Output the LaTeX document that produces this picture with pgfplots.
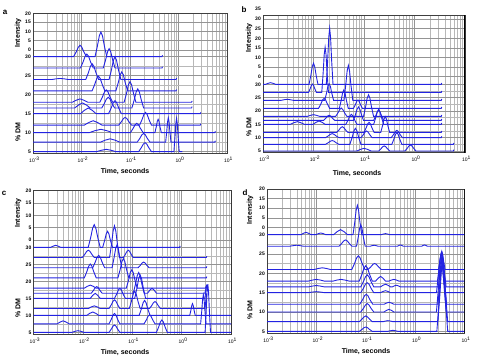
\documentclass[border=0pt]{standalone}
\usepackage{fontspec}
\setmainfont{Liberation Sans}
\usepackage{pgfplots}
\pgfplotsset{compat=1.18}
\definecolor{cb}{RGB}{35,35,225}
\pgfplotscreateplotcyclelist{bluelist}{{draw=cb,solid,line width=0.9pt,mark=none}\\}
\pgfplotsset{
 panel/.style={
  scale only axis, anchor=south west,
  xmin=-3, xmax=1,
  xtick={-3,-2,-1,0,1},
  xticklabels={10\textsuperscript{-3},10\textsuperscript{-2},10\textsuperscript{-1},10\textsuperscript{0},10\textsuperscript{1}},
  minor xtick={-2.699,-2.523,-2.398,-2.301,-2.222,-2.155,-2.097,-2.046,
   -1.699,-1.523,-1.398,-1.301,-1.222,-1.155,-1.097,-1.046,
   -0.699,-0.523,-0.398,-0.301,-0.222,-0.155,-0.097,-0.046,
   0.301,0.477,0.602,0.699,0.778,0.845,0.903,0.954},
  minor ytick={7.5,12.5,17.5,22.5,27.5},
  grid=both,
  major grid style={draw=black!42, line width=0.4pt},
  minor grid style={draw=black!28, line width=0.4pt},
  major tick length=0pt, minor tick length=0pt,
  axis line style={draw=black!75, line width=0.4pt},
  xticklabel style={font=\fontsize{5}{5}\selectfont, inner sep=1pt, yshift=-2.5pt, xshift=1.5pt},
  yticklabel style={font=\bfseries\fontsize{5}{5}\selectfont, inner sep=1pt, xshift=-1pt},
  cycle list name=bluelist,
 }
}
\tikzset{lab/.style={font=\bfseries\fontsize{7}{7}\selectfont, inner sep=0pt}}
\begin{document}
\begin{tikzpicture}[x=1pt,y=1pt]
\useasboundingbox (0,0) rectangle (484,356);

% ---------------- panel a ----------------
\begin{axis}[panel, at={(33pt,203pt)}, width=194pt, height=139.3pt,
  ymin=4.65, ymax=41.3,
  ytick={5,10,15,20,25,30,31.76,34.22,36.67,39.13,41.3},
  yticklabels={5,10,15,20,25,30,0,5,10,15,20}]
\addplot coordinates {(-3,30)(-2.162,30)(-2.108,31.28)(-2.066,32.5)(-2.03,32.98)(-1.994,32.5)(-1.952,31.28)(-1.898,30)(-1.721,30)(-1.672,32.79)(-1.633,35.45)(-1.60,36.49)(-1.567,35.45)(-1.528,32.79)(-1.479,30)(-0.34,30)(-0.33,30.35)};
\addplot coordinates {(-3,27)(-2.022,27)(-1.968,28.58)(-1.926,30.09)(-1.89,30.68)(-1.854,30.09)(-1.812,28.58)(-1.758,27)(-1.551,27)(-1.502,29.19)(-1.463,31.28)(-1.43,32.09)(-1.397,31.28)(-1.358,29.19)(-1.309,27)(-0.34,27)(-0.33,27.35)};
\addplot coordinates {(-3,24)(-2.6,24)(-2.52,24.16)(-2.44,24.26)(-2.36,24.16)(-2.28,24)(-1.912,24)(-1.858,25.77)(-1.816,27.46)(-1.78,28.12)(-1.744,27.46)(-1.702,25.77)(-1.648,24)(-1.431,24)(-1.382,26.56)(-1.343,29.01)(-1.31,29.96)(-1.277,29.01)(-1.238,26.56)(-1.189,24)(-0.05,24)(-0.04,24.35)};
\addplot coordinates {(-3,21)(-1.782,21)(-1.728,22.66)(-1.686,24.24)(-1.65,24.86)(-1.614,24.24)(-1.572,22.66)(-1.518,21)(-1.291,21)(-1.242,23.15)(-1.203,25.2)(-1.17,26)(-1.137,25.2)(-1.098,23.15)(-1.049,21)(-0.05,21)(-0.04,21.35)};
\addplot coordinates {(-3,18)(-2.19,18)(-2.11,18.53)(-2.03,18.88)(-1.95,18.53)(-1.87,18)(-1.622,18)(-1.568,19.4)(-1.526,20.73)(-1.49,21.25)(-1.454,20.73)(-1.412,19.4)(-1.358,18)(-1.121,18)(-1.072,20.34)(-1.033,22.57)(-1.0,23.44)(-0.967,22.57)(-0.928,20.34)(-0.879,18)(0.27,18)(0.28,18.35)};
\addplot coordinates {(-3,16.5)(-2.14,16.5)(-2.06,17.29)(-1.98,17.82)(-1.90,17.29)(-1.82,16.5)(-1.582,16.5)(-1.528,17.71)(-1.486,18.86)(-1.45,19.31)(-1.414,18.86)(-1.372,17.71)(-1.318,16.5)(-0.961,16.5)(-0.912,18.65)(-0.873,20.7)(-0.84,21.5)(-0.807,20.7)(-0.768,18.65)(-0.719,16.5)(0.27,16.5)(0.28,16.85)};
\addplot coordinates {(-3,15)(-2.02,15)(-1.94,15.89)(-1.86,16.49)(-1.78,15.89)(-1.70,15)(-1.442,15)(-1.388,16.47)(-1.346,17.87)(-1.31,18.42)(-1.274,17.87)(-1.232,16.47)(-1.178,15)(0.45,15)(0.46,15.35)};
\addplot coordinates {(-3,12)(-1.94,12)(-1.85,12.68)(-1.76,13.14)(-1.67,12.68)(-1.58,12)(-1.232,12)(-1.178,12.87)(-1.136,13.7)(-1.10,14.02)(-1.064,13.7)(-1.022,12.87)(-0.968,12)(-0.801,12)(-0.752,13.43)(-0.713,14.8)(-0.68,15.33)(-0.647,14.8)(-0.608,13.43)(-0.559,12)(0.45,12)(0.46,12.35)};
\addplot coordinates {(-3,10)(-1.84,10)(-1.72,10.53)(-1.6,10.88)(-1.48,10.53)(-1.36,10)(-0.992,10)(-0.938,11.06)(-0.896,12.07)(-0.86,12.46)(-0.824,12.07)(-0.782,11.06)(-0.728,10)(-0.486,10)(-0.459,11.51)(-0.438,12.95)(-0.42,13.51)(-0.402,12.95)(-0.381,11.51)(-0.354,10)(0.75,10)(0.76,10.35)};
\addplot coordinates {(-3,7.5)(-1.61,7.5)(-1.51,8.03)(-1.41,8.38)(-1.31,8.03)(-1.21,7.5)(-0.852,7.5)(-0.798,8.48)(-0.756,9.42)(-0.72,9.78)(-0.684,9.42)(-0.642,8.48)(-0.588,7.5)(-0.265,7.5)(-0.243,10.25)(-0.225,12.88)(-0.21,13.9)(-0.195,12.88)(-0.177,10.25)(-0.155,7.5)(0.75,7.5)(0.76,7.85)};
\addplot coordinates {(-3,5)(-1.69,5)(-1.59,5.37)(-1.49,5.61)(-1.39,5.37)(-1.29,5)(-0.822,5)(-0.768,6.02)(-0.726,6.99)(-0.69,7.37)(-0.654,6.99)(-0.612,6.02)(-0.558,5)(-0.095,5)(-0.073,8.77)(-0.055,12.37)(-0.04,13.77)(-0.025,12.37)(-0.007,8.77)(0.015,5)(0.08,5)};
\end{axis}

% ---------------- panel b ----------------
\begin{axis}[panel, at={(263pt,203.3pt)}, width=202pt, height=137.7pt,
  ymin=4.36, ymax=56.0,
  ytick={5,10,15,20,25,30,32.86,36.46,40.06,43.66,47.26,50.86,54.46},
  yticklabels={5,10,15,20,25,30,0,5,10,15,20,25,30}]
\addplot coordinates {(-3,30)(-2.95,30)(-2.9,30.37)(-2.85,30.62)(-2.8,30.37)(-2.75,30)(-2.088,30)(-2.052,33.4)(-2.024,36.64)(-2.0,37.9)(-1.976,36.64)(-1.948,33.4)(-1.912,30)(-1.746,30)(-1.719,39.03)(-1.698,47.64)(-1.68,51)(-1.662,47.64)(-1.641,39.03)(-1.614,30)(0.53,30)(0.54,30.5)};
\addplot coordinates {(-3,27)(-2.097,27)(-2.066,28.34)(-2.041,29.62)(-2.02,30.12)(-1.999,29.62)(-1.974,28.34)(-1.943,27)(-1.836,27)(-1.809,34.27)(-1.788,41.2)(-1.77,43.9)(-1.752,41.2)(-1.731,34.27)(-1.704,27)(0.53,27)(0.54,27.5)};
\addplot coordinates {(-3,24)(-2.64,24)(-2.58,24.23)(-2.52,24.38)(-2.46,24.23)(-2.40,24)(-1.778,24)(-1.742,26.69)(-1.714,29.25)(-1.69,30.25)(-1.666,29.25)(-1.638,26.69)(-1.602,24)(-1.398,24)(-1.362,29.63)(-1.334,35.0)(-1.31,37.1)(-1.286,35.0)(-1.258,29.63)(-1.222,24)(0.53,24)(0.54,24.5)};
\addplot coordinates {(-3,21)(-1.9,21)(-1.855,22.61)(-1.82,24.15)(-1.79,24.75)(-1.76,24.15)(-1.725,22.61)(-1.68,21)(-1.488,21)(-1.452,23.97)(-1.424,26.8)(-1.40,27.9)(-1.376,26.8)(-1.348,23.97)(-1.312,21)(-1.208,21)(-1.172,22.33)(-1.144,23.6)(-1.12,24.1)(-1.096,23.6)(-1.068,22.33)(-1.032,21)(0.53,21)(0.54,21.5)};
\addplot coordinates {(-3,18)(-2.12,18)(-2.06,18.37)(-2.0,18.62)(-1.94,18.37)(-1.88,18)(-1.56,18)(-1.515,19.33)(-1.48,20.6)(-1.45,21.1)(-1.42,20.6)(-1.385,19.33)(-1.34,18)(-1.009,18)(-0.969,21.48)(-0.937,24.8)(-0.91,26.1)(-0.883,24.8)(-0.851,21.48)(-0.811,18)(0.53,18)(0.54,18.5)};
\addplot coordinates {(-3,16.5)(-1.8,16.5)(-1.755,17.32)(-1.72,18.1)(-1.69,18.4)(-1.66,18.1)(-1.625,17.32)(-1.58,16.5)(-1.209,16.5)(-1.169,18.65)(-1.137,20.7)(-1.11,21.5)(-1.083,20.7)(-1.051,18.65)(-1.011,16.5)(-0.809,16.5)(-0.769,18.11)(-0.737,19.65)(-0.71,20.25)(-0.683,19.65)(-0.651,18.11)(-0.611,16.5)(0.53,16.5)(0.54,17)};
\addplot coordinates {(-3,15)(-2.46,15)(-2.39,15.6)(-2.32,16)(-2.25,15.6)(-2.18,15)(-2.01,15)(-1.95,15.75)(-1.89,16.25)(-1.83,15.75)(-1.77,15)(-1.36,15)(-1.315,16.61)(-1.28,18.15)(-1.25,18.75)(-1.22,18.15)(-1.185,16.61)(-1.14,15)(-0.809,15)(-0.769,17.41)(-0.737,19.7)(-0.71,20.6)(-0.683,19.7)(-0.651,17.41)(-0.611,15)(0.53,15)(0.54,15.5)};
\addplot coordinates {(-3,12)(-1.54,12)(-1.495,12.9)(-1.46,13.76)(-1.43,14.1)(-1.40,13.76)(-1.365,12.9)(-1.32,12)(-0.999,12)(-0.959,13.61)(-0.927,15.15)(-0.90,15.75)(-0.873,15.15)(-0.841,13.61)(-0.801,12)(-0.668,12)(-0.632,14.54)(-0.604,16.96)(-0.58,17.9)(-0.556,16.96)(-0.528,14.54)(-0.492,12)(0.53,12)(0.54,12.5)};
\addplot coordinates {(-3,10)(-1.762,10)(-1.708,10.65)(-1.666,11.26)(-1.63,11.5)(-1.594,11.26)(-1.552,10.65)(-1.498,10)(-1.06,10)(-1.015,11.08)(-0.98,12.1)(-0.95,12.5)(-0.92,12.1)(-0.885,11.08)(-0.84,10)(-0.46,10)(-0.415,11.18)(-0.38,12.31)(-0.35,12.75)(-0.32,12.31)(-0.285,11.18)(-0.24,10)(0.53,10)(0.54,10.5)};
\addplot coordinates {(-3,7.5)(-1.762,7.5)(-1.708,8.1)(-1.666,8.68)(-1.63,8.9)(-1.594,8.68)(-1.552,8.1)(-1.498,7.5)(-1.28,7.5)(-1.235,10.08)(-1.2,12.54)(-1.17,13.5)(-1.14,12.54)(-1.105,10.08)(-1.06,7.5)(-0.449,7.5)(-0.409,9.39)(-0.377,11.2)(-0.35,11.9)(-0.323,11.2)(-0.291,9.39)(-0.251,7.5)(0.77,7.5)(0.78,8)};
\addplot coordinates {(-3,5)(-1.14,5)(-1.07,5.6)(-1.0,6)(-0.93,5.6)(-0.86,5)(-0.71,5)(-0.665,5.82)(-0.63,6.6)(-0.60,6.9)(-0.57,6.6)(-0.535,5.82)(-0.49,5)(-0.19,5)(-0.145,5.97)(-0.11,6.89)(-0.08,7.25)(-0.05,6.89)(-0.015,5.97)(0.03,5)(0.77,5)(0.78,5.5)};
\draw[black, line width=1.1pt] (rel axis cs:1,0) -- (rel axis cs:1,1);
\end{axis}

% ---------------- panel c ----------------
\begin{axis}[panel, at={(33.5pt,22pt)}, width=197.5pt, height=143.4pt,
  ymin=4.51, ymax=46.68,
  ytick={5,10,15,20,25,30,32.16,35.79,39.42,43.05,46.68},
  yticklabels={5,10,15,20,25,30,0,5,10,15,20}]
\addplot coordinates {(-3,30)(-2.65,30)(-2.6,30.35)(-2.55,30.59)(-2.5,30.35)(-2.45,30)(-1.891,30)(-1.842,32.87)(-1.803,35.6)(-1.77,36.67)(-1.737,35.6)(-1.698,32.87)(-1.649,30)(-1.599,30)(-1.559,32.02)(-1.527,33.95)(-1.50,34.7)(-1.473,33.95)(-1.441,32.02)(-1.401,30)(-0.04,30)(-0.03,30.4)};
\addplot coordinates {(-3,27)(-2.011,27)(-1.962,27.93)(-1.923,28.81)(-1.89,29.16)(-1.857,28.81)(-1.818,27.93)(-1.769,27)(-1.459,27)(-1.419,31.0)(-1.387,34.81)(-1.36,36.3)(-1.333,34.81)(-1.301,31.0)(-1.261,27)(-1.179,27)(-1.139,27.93)(-1.107,28.81)(-1.08,29.16)(-1.053,28.81)(-1.021,27.93)(-0.981,27)(0.50,27)(0.51,27.4)};
\addplot coordinates {(-3,24)(-1.801,24)(-1.752,25.56)(-1.713,27.05)(-1.68,27.63)(-1.647,27.05)(-1.608,25.56)(-1.559,24)(-1.409,24)(-1.369,26.87)(-1.337,29.6)(-1.31,30.67)(-1.283,29.6)(-1.251,26.87)(-1.211,24)(-0.88,24)(-0.835,24.72)(-0.8,25.4)(-0.77,25.67)(-0.74,25.4)(-0.705,24.72)(-0.66,24)(0.50,24)(0.51,24.4)};
\addplot coordinates {(-3,21)(-1.971,21)(-1.922,22.76)(-1.883,24.44)(-1.85,25.1)(-1.817,24.44)(-1.778,22.76)(-1.729,21)(-1.29,21)(-1.245,23.45)(-1.21,25.79)(-1.18,26.7)(-1.15,25.79)(-1.115,23.45)(-1.07,21)(0.50,21)(0.51,21.4)};
\addplot coordinates {(-3,18)(-1.97,18)(-1.91,18.53)(-1.85,18.88)(-1.79,18.53)(-1.73,18)(-1.12,18)(-1.075,20.32)(-1.04,22.54)(-1.01,23.4)(-0.98,22.54)(-0.945,20.32)(-0.90,18)(0.48,18)(0.51,18.9)};
\addplot coordinates {(-3,16.5)(-1.83,16.5)(-1.785,17.34)(-1.75,18.15)(-1.72,18.46)(-1.69,18.15)(-1.655,17.34)(-1.61,16.5)(-0.98,16.5)(-0.935,19.12)(-0.90,21.62)(-0.87,22.6)(-0.84,21.62)(-0.805,19.12)(-0.76,16.5)(-0.69,16.5)(-0.645,17.38)(-0.60,17.97)(-0.555,17.38)(-0.51,16.5)(0.47,16.5)(0.495,17.91)(0.51,18.85)};
\addplot coordinates {(-3,15)(-1.85,15)(-1.80,15.88)(-1.75,16.47)(-1.70,15.88)(-1.65,15)(-1.36,15)(-1.315,16.26)(-1.28,17.47)(-1.25,17.94)(-1.22,17.47)(-1.185,16.26)(-1.14,15)(-0.95,15)(-0.905,17.95)(-0.87,20.76)(-0.84,21.86)(-0.81,20.76)(-0.775,17.95)(-0.73,15)(0.47,15)(0.495,17.46)(0.51,19.1)};
\addplot coordinates {(-3,12)(-1.89,12)(-1.83,12.47)(-1.77,12.78)(-1.71,12.47)(-1.65,12)(-1.47,12)(-1.425,13.1)(-1.39,14.14)(-1.36,14.55)(-1.33,14.14)(-1.295,13.1)(-1.25,12)(-1.06,12)(-1.015,14.19)(-0.98,16.28)(-0.95,17.1)(-0.92,16.28)(-0.885,14.19)(-0.84,12)(-0.65,12)(-0.605,12.89)(-0.57,13.73)(-0.54,14.06)(-0.51,13.73)(-0.475,12.89)(-0.43,12)(0.47,12)(0.495,14.7)(0.51,16.5)};
\addplot coordinates {(-3,10)(-1.92,10)(-1.86,10.59)(-1.8,10.98)(-1.74,10.59)(-1.68,10)(-0.86,10)(-0.815,11.89)(-0.78,13.7)(-0.75,14.4)(-0.72,13.7)(-0.685,11.89)(-0.64,10)(0.165,10)(0.187,11.47)(0.205,12.88)(0.22,13.43)(0.235,12.88)(0.253,11.47)(0.275,10)(1,10)};
\addplot coordinates {(-3,7.5)(-2.52,7.5)(-2.46,8.03)(-2.4,8.38)(-2.34,8.03)(-2.28,7.5)(-1.47,7.5)(-1.425,8.81)(-1.39,10.05)(-1.36,10.54)(-1.33,10.05)(-1.295,8.81)(-1.25,7.5)(-0.76,7.5)(-0.715,8.64)(-0.68,9.73)(-0.65,10.15)(-0.62,9.73)(-0.585,8.64)(-0.54,7.5)(0.385,7.5)(0.407,11.17)(0.425,14.67)(0.44,16.03)(0.455,14.67)(0.473,11.17)(0.495,7.5)(1,7.5)};
\addplot coordinates {(-3,5)(-2.22,5)(-2.16,5.29)(-2.1,5.49)(-2.04,5.29)(-1.98,5)(-1.47,5)(-1.425,5.93)(-1.39,6.81)(-1.36,7.16)(-1.33,6.81)(-1.295,5.93)(-1.25,5)(-0.51,5)(-0.465,6.56)(-0.43,8.05)(-0.40,8.63)(-0.37,8.05)(-0.335,6.56)(-0.29,5)(0.475,5)(0.497,11.11)(0.515,16.93)(0.53,19.2)(0.545,16.93)(0.563,11.11)(0.585,5)(1,5)};
\draw[black, line width=0.9pt] (rel axis cs:1,0) -- (rel axis cs:1,1);
\end{axis}

% ---------------- panel d ----------------
\begin{axis}[panel, at={(267pt,23pt)}, width=197.5pt, height=144.1pt,
  ymin=4.57, ymax=41.83,
  ytick={5,10,15,20,25,30,31.9,34.38,36.87,39.35,41.83},
  yticklabels={5,10,15,20,25,30,0,5,10,15,20}]
\addplot coordinates {(-3,30)(-2.31,30)(-2.26,30.36)(-2.21,30.6)(-2.16,30.36)(-2.11,30)(-2.01,30)(-1.96,30.26)(-1.91,30.43)(-1.86,30.26)(-1.81,30)(-1.65,30)(-1.58,30.77)(-1.51,31.29)(-1.44,30.77)(-1.37,30)(-1.258,30)(-1.222,33.26)(-1.194,36.38)(-1.17,37.59)(-1.146,36.38)(-1.118,33.26)(-1.082,30)(-0.68,30)(-0.64,30.16)(-0.6,30.26)(-0.56,30.16)(-0.52,30)(1,30)};
\addplot coordinates {(-3,27)(-2.54,27)(-2.47,27.16)(-2.4,27.26)(-2.33,27.16)(-2.26,27)(-1.542,27)(-1.488,27.71)(-1.446,28.38)(-1.41,28.64)(-1.374,28.38)(-1.332,27.71)(-1.278,27)(-1.188,27)(-1.152,29.37)(-1.124,31.64)(-1.10,32.52)(-1.076,31.64)(-1.048,29.37)(-1.012,27)(-0.91,27)(-0.87,27.16)(-0.83,27.26)(-0.79,27.16)(-0.75,27)(-0.36,27)(-0.33,27.2)(-0.30,27.34)(-0.27,27.2)(-0.24,27)(0.13,27)(0.16,27.2)(0.19,27.34)(0.22,27.2)(0.25,27)(1,27)};
\addplot coordinates {(-3,21)(-2.04,21)(-1.96,21.26)(-1.88,21.43)(-1.80,21.26)(-1.72,21)(-1.282,21)(-1.228,22.52)(-1.186,23.97)(-1.15,24.53)(-1.114,23.97)(-1.072,22.52)(-1.018,21)(-0.952,21)(-0.898,21.67)(-0.856,22.3)(-0.82,22.55)(-0.784,22.3)(-0.742,21.67)(-0.688,21)(0.474,21)(0.501,23.04)(0.522,24.98)(0.54,25.74)(0.558,24.98)(0.579,23.04)(0.606,21)(1,21)};
\addplot coordinates {(-3,18)(-2.16,18)(-2.08,18.26)(-2.0,18.43)(-1.92,18.26)(-1.84,18)(-1.66,18)(-1.58,18.26)(-1.5,18.43)(-1.42,18.26)(-1.34,18)(-1.132,18)(-1.078,19.71)(-1.036,21.33)(-1.0,21.97)(-0.964,21.33)(-0.922,19.71)(-0.868,18)(-0.80,18)(-0.75,18.72)(-0.70,19.2)(-0.65,18.72)(-0.60,18)(-0.53,18)(-0.48,18.26)(-0.43,18.43)(-0.38,18.26)(-0.33,18)(0.453,18)(0.485,21.11)(0.509,24.08)(0.53,25.24)(0.551,24.08)(0.575,21.11)(0.607,18)(1,18)};
\addplot coordinates {(-3,16.5)(-2.16,16.5)(-2.08,16.7)(-2.0,16.84)(-1.92,16.7)(-1.84,16.5)(-1.102,16.5)(-1.048,17.83)(-1.006,19.1)(-0.97,19.6)(-0.934,19.1)(-0.892,17.83)(-0.838,16.5)(-0.70,16.5)(-0.65,16.91)(-0.60,17.19)(-0.55,16.91)(-0.50,16.5)(-0.46,16.5)(-0.42,16.76)(-0.38,16.93)(-0.34,16.76)(-0.30,16.5)(0.473,16.5)(0.505,20.06)(0.529,23.46)(0.55,24.78)(0.571,23.46)(0.595,20.06)(0.627,16.5)(1,16.5)};
\addplot coordinates {(-3,15)(-2.16,15)(-2.08,15.16)(-2.0,15.26)(-1.92,15.16)(-1.84,15)(-1.102,15)(-1.048,16.11)(-1.006,17.18)(-0.97,17.59)(-0.934,17.18)(-0.892,16.11)(-0.838,15)(-0.70,15)(-0.65,15.31)(-0.60,15.52)(-0.55,15.31)(-0.50,15)(0.432,15)(0.468,19.08)(0.496,22.96)(0.52,24.48)(0.544,22.96)(0.572,19.08)(0.608,15)(1,15)};
\addplot coordinates {(-3,12)(-1.122,12)(-1.068,13.11)(-1.026,14.18)(-0.99,14.59)(-0.954,14.18)(-0.912,13.11)(-0.858,12)(-0.63,12)(-0.58,12.31)(-0.53,12.52)(-0.48,12.31)(-0.43,12)(0.462,12)(0.498,17.19)(0.526,22.14)(0.55,24.07)(0.574,22.14)(0.602,17.19)(0.638,12)(1,12)};
\addplot coordinates {(-3,10)(-1.102,10)(-1.048,10.93)(-1.006,11.81)(-0.97,12.16)(-0.934,11.81)(-0.892,10.93)(-0.838,10)(-0.63,10)(-0.58,10.41)(-0.53,10.69)(-0.48,10.41)(-0.43,10)(0.431,10)(0.471,16.04)(0.503,21.8)(0.53,24.05)(0.557,21.8)(0.589,16.04)(0.629,10)(1,10)};
\addplot coordinates {(-3,7.5)(-1.132,7.5)(-1.078,8.13)(-1.036,8.73)(-1.0,8.97)(-0.964,8.73)(-0.922,8.13)(-0.868,7.5)(-0.65,7.5)(-0.60,7.66)(-0.55,7.76)(-0.50,7.66)(-0.45,7.5)(0.461,7.5)(0.501,14.36)(0.533,20.9)(0.56,23.45)(0.587,20.9)(0.619,14.36)(0.659,7.5)(1,7.5)};
\addplot coordinates {(-3,5)(-1.132,5)(-1.078,5.48)(-1.036,5.94)(-1.0,6.12)(-0.964,5.94)(-0.922,5.48)(-0.868,5)(-0.55,5)(-0.50,5.16)(-0.45,5.26)(-0.40,5.16)(-0.35,5)(0.44,5)(0.485,12.78)(0.52,20.2)(0.55,23.1)(0.58,20.2)(0.615,12.78)(0.66,5)(1,5)};
\draw[black, line width=1.1pt] (rel axis cs:1,0) -- (rel axis cs:1,1);
\end{axis}

% ---------------- labels ----------------
\node[font=\bfseries\fontsize{8}{8}\selectfont] at (5,344) {a};
\node[font=\bfseries\fontsize{8}{8}\selectfont] at (244,346) {b};
\node[font=\bfseries\fontsize{8}{8}\selectfont] at (4,163) {c};
\node[font=\bfseries\fontsize{8}{8}\selectfont] at (245,163) {d};
\node[font=\bfseries\fontsize{5}{5}\selectfont, anchor=east, inner sep=0pt] at (261,347) {35};
\node[lab, rotate=90] at (18,323) {Intensity};
\node[lab, rotate=90] at (18,224) {\% DM};
\node[lab, rotate=90] at (249,318) {Intensity};
\node[lab, rotate=90] at (249,229) {\% DM};
\node[lab, rotate=90] at (18,143) {Intensity};
\node[lab, rotate=90] at (18,48) {\% DM};
\node[lab, rotate=90] at (250,146) {Intensity};
\node[lab, rotate=90] at (250,46) {\% DM};
\node[lab] at (125,184) {Time, seconds};
\node[lab] at (357,182) {Time, seconds};
\node[lab] at (125,3.5) {Time, seconds};
\node[lab] at (366,4.5) {Time, seconds};
\end{tikzpicture}
\end{document}
